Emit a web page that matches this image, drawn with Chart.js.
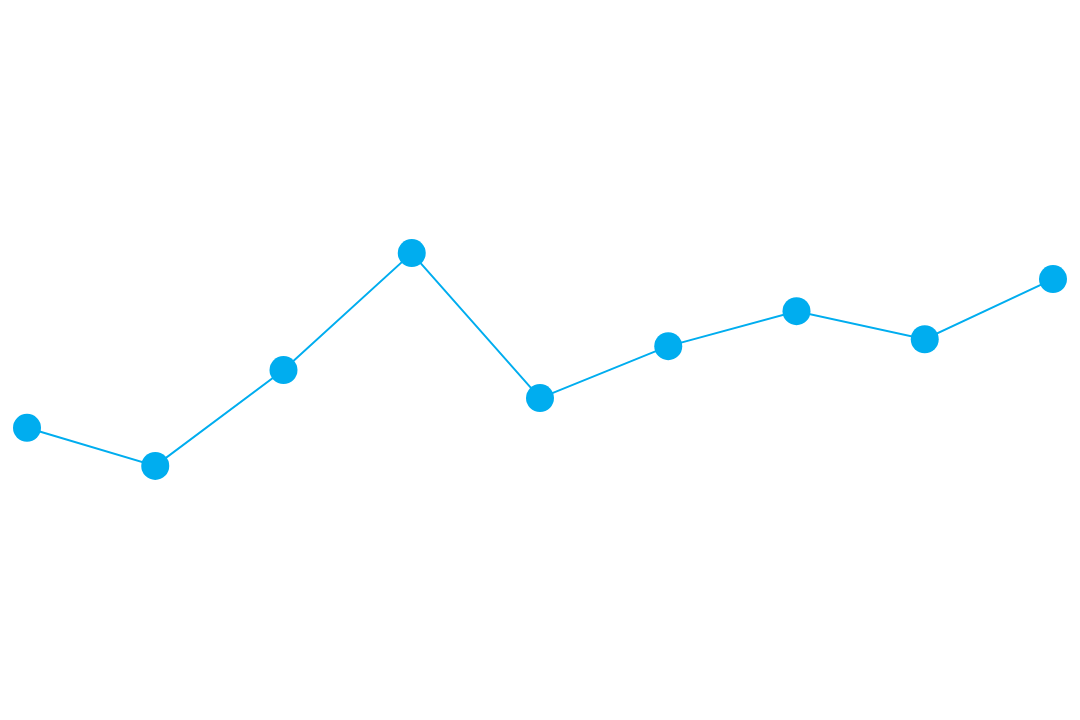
<!DOCTYPE html>
<html>
<head>
<meta charset="utf-8">
<script src="https://cdn.jsdelivr.net/npm/chart.js@4"></script>
<style>
    html, body { margin: 0; padding: 0; background: #fff; }
    #wrap { width: 1080px; height: 720px; }
</style>
</head>
<body>
<div id="wrap"><canvas id="chart"></canvas></div>
<script>
const labels = ['1', '2', '3', '4', '5', '6', '7', '8', '9'];
const values = [40.2, 34.7, 48.55, 65.45, 44.5, 52.0, 57.05, 53.0, 61.7];

const ctx = document.getElementById('chart').getContext('2d');
new Chart(ctx, {
    type: 'line',
    data: {
        labels: labels,
        datasets: [{
            data: values,
            borderColor: '#00ADEF',
            backgroundColor: '#00ADEF',
            borderWidth: 2,
            pointRadius: 14,
            pointHoverRadius: 14,
            pointBorderWidth: 0,
            tension: 0,
            fill: false
        }]
    },
    options: {
        responsive: true,
        maintainAspectRatio: false,
        animation: false,
        layout: { padding: { left: 27, right: 27, top: 0, bottom: 0 } },
        plugins: {
            legend: { display: false },
            tooltip: { enabled: false }
        },
        scales: {
            x: { display: false, offset: false },
            y: { display: false, min: 0, max: 100 }
        }
    }
});
</script>
</body>
</html>
